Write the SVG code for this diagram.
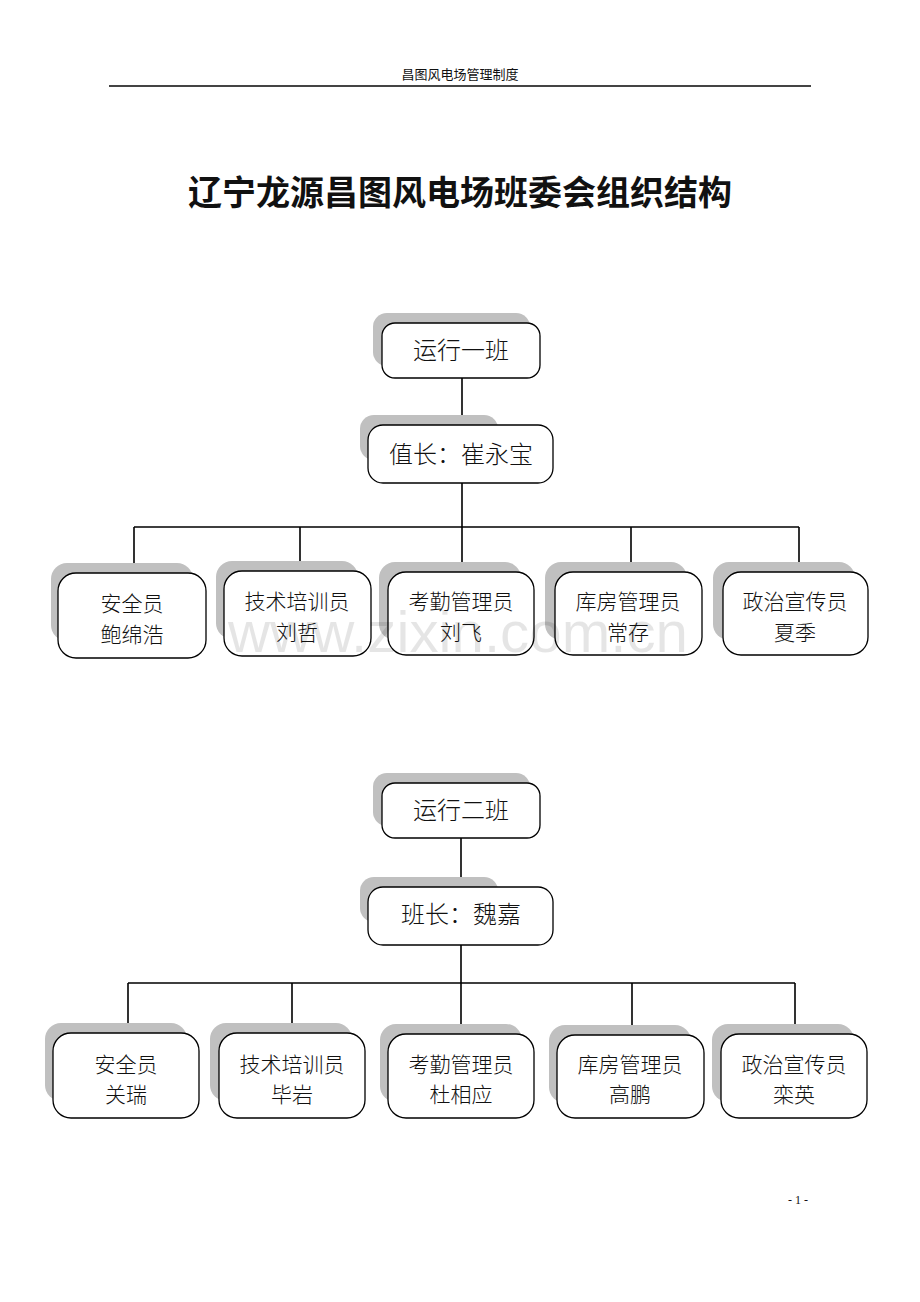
<svg xmlns="http://www.w3.org/2000/svg" width="920" height="1302" viewBox="0 0 920 1302">
<style>
text{font-family:"Liberation Serif","Noto Sans CJK SC",serif;fill:#111;text-anchor:middle}
.hdr{font-size:13px}
.title{font-size:34px;font-weight:bold;font-family:"Noto Sans CJK SC",sans-serif}
.t1{font-size:24px;font-family:"Noto Sans CJK SC",sans-serif;font-weight:300}
.t2{font-size:21px;font-family:"Noto Sans CJK SC",sans-serif;font-weight:300}
.box{fill:#fff;stroke:#000;stroke-width:1.3}
.sh{fill:#c0c0c0}
.conn{stroke:#000;stroke-width:1.6;fill:none}
.wm{font-family:"Liberation Sans",sans-serif;font-size:58px;fill:#000;fill-opacity:0.1}
</style>
<rect width="920" height="1302" fill="#fff"/>
<g id="header">
<text class="hdr" x="460" y="79">昌图风电场管理制度</text>
<line x1="109" y1="86" x2="811" y2="86" stroke="#444" stroke-width="2"/>
</g>
<text class="title" x="460" y="205">辽宁龙源昌图风电场班委会组织结构</text>

<g id="connectors1">
<path class="conn" d="M462 378V425M462 483V527M134 527H799M134 527V573M300 527V571M462 527V572M631 527V572M799 527V572"/>
</g>
<g id="n-yx1"><rect class="sh" x="373" y="313" width="157" height="53" rx="14"/><rect class="box" x="382" y="323" width="158" height="55" rx="13"/><text class="t1" x="461" y="359">运行一班</text></g>
<g id="n-zz1"><rect class="sh" x="360" y="415" width="138" height="45" rx="14"/><rect class="box" x="368" y="425" width="185" height="58" rx="15"/><text class="t1" x="461" y="463">值长：崔永宝</text></g>
<g id="n-a1"><rect class="sh" x="51" y="563" width="142" height="78" rx="16"/><rect class="box" x="58" y="573" width="148" height="85" rx="18"/><text class="t2" x="132" y="611">安全员</text><text class="t2" x="132" y="642">鲍绵浩</text></g>
<g id="n-b1"><rect class="sh" x="216" y="561" width="142" height="78" rx="16"/><rect class="box" x="224" y="571" width="147" height="85" rx="18"/><text class="t2" x="297" y="609">技术培训员</text><text class="t2" x="297" y="640">刘哲</text></g>
<g id="n-c1"><rect class="sh" x="379" y="562" width="142" height="78" rx="16"/><rect class="box" x="388" y="572" width="146" height="83" rx="18"/><text class="t2" x="461" y="609">考勤管理员</text><text class="t2" x="461" y="640">刘飞</text></g>
<g id="n-d1"><rect class="sh" x="545" y="562" width="142" height="78" rx="16"/><rect class="box" x="555" y="572" width="147" height="83" rx="18"/><text class="t2" x="628" y="609">库房管理员</text><text class="t2" x="628" y="640">常存</text></g>
<g id="n-e1"><rect class="sh" x="713" y="562" width="142" height="78" rx="16"/><rect class="box" x="723" y="572" width="145" height="83" rx="18"/><text class="t2" x="795" y="609">政治宣传员</text><text class="t2" x="795" y="640">夏季</text></g>

<g id="connectors2">
<path class="conn" d="M461 838V887M461 945V983M128 983H795M128 983V1033M292 983V1033M461 983V1034M632 983V1035M795 983V1034"/>
</g>
<g id="n-yx2"><rect class="sh" x="373" y="773" width="157" height="53" rx="14"/><rect class="box" x="382" y="783" width="158" height="55" rx="13"/><text class="t1" x="461" y="819">运行二班</text></g>
<g id="n-bz2"><rect class="sh" x="360" y="877" width="138" height="45" rx="14"/><rect class="box" x="368" y="887" width="185" height="58" rx="15"/><text class="t1" x="461" y="923">班长：魏嘉</text></g>
<g id="n-a2"><rect class="sh" x="45" y="1023" width="142" height="78" rx="16"/><rect class="box" x="53" y="1033" width="146" height="85" rx="18"/><text class="t2" x="126" y="1072">安全员</text><text class="t2" x="126" y="1102">关瑞</text></g>
<g id="n-b2"><rect class="sh" x="210" y="1023" width="142" height="78" rx="16"/><rect class="box" x="219" y="1033" width="146" height="85" rx="18"/><text class="t2" x="292" y="1072">技术培训员</text><text class="t2" x="292" y="1102">毕岩</text></g>
<g id="n-c2"><rect class="sh" x="380" y="1024" width="142" height="78" rx="16"/><rect class="box" x="388" y="1034" width="146" height="84" rx="18"/><text class="t2" x="461" y="1072">考勤管理员</text><text class="t2" x="461" y="1102">杜相应</text></g>
<g id="n-d2"><rect class="sh" x="549" y="1025" width="142" height="78" rx="16"/><rect class="box" x="557" y="1035" width="147" height="83" rx="18"/><text class="t2" x="630" y="1072">库房管理员</text><text class="t2" x="630" y="1102">高鹏</text></g>
<g id="n-e2"><rect class="sh" x="712" y="1024" width="142" height="78" rx="16"/><rect class="box" x="721" y="1034" width="146" height="84" rx="18"/><text class="t2" x="794" y="1072">政治宣传员</text><text class="t2" x="794" y="1102">栾英</text></g>

<text class="wm" x="458" y="652" textLength="460" lengthAdjust="spacingAndGlyphs">www.zixin.com.cn</text>
<text x="798" y="1204" style="font-size:12px">- 1 -</text>
</svg>
